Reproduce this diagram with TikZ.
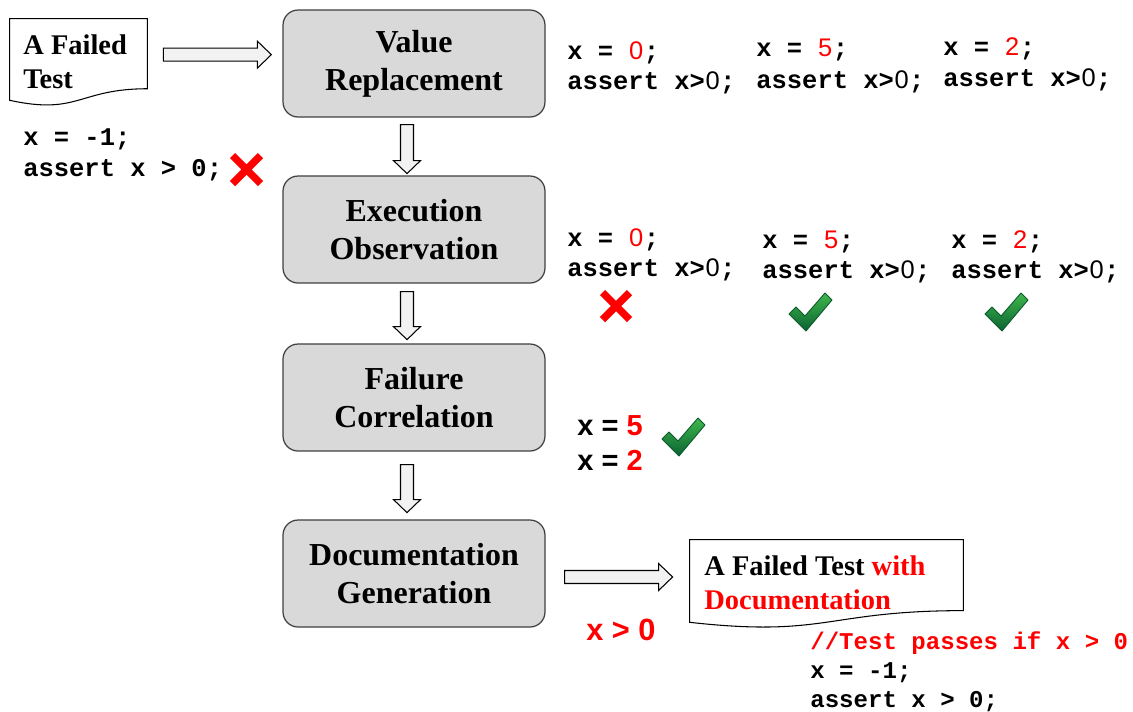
\documentclass[tikz,border=0pt]{standalone}
\usepackage{fontspec}
\setmainfont{Liberation Serif}
\setsansfont{Liberation Sans}
\setmonofont{Liberation Mono}
\usetikzlibrary{calc}

\definecolor{boxfill}{HTML}{D9D9D9}
\definecolor{boxline}{HTML}{404040}
\definecolor{arrowfill}{HTML}{F2F2F2}
\definecolor{hot}{HTML}{FF0000}
\definecolor{okhi}{HTML}{40B84C}
\definecolor{oklo}{HTML}{0A6232}
\definecolor{okline}{HTML}{0A5A2C}

% a light digit in a monospaced cell
\newcommand{\lt}[1]{\makebox[0.6em][c]{\sffamily\mdseries #1}}
\newcommand{\rd}[1]{\textcolor{hot}{\lt{#1}}}

\tikzset{
  stage/.style={draw=boxline, line width=0.7pt, fill=boxfill, rounded corners=0.3cm,
    minimum width=5.24cm, minimum height=2.14cm, align=center, inner sep=0pt,
    font=\fontsize{18.2}{21.6}\selectfont\bfseries},
  blk/.style={draw=black, line width=0.6pt, fill=arrowfill, line join=miter},
  docbox/.style={inner sep=0pt},
  docline/.style={draw=black, line width=0.6pt, fill=white},
  doctext/.style={anchor=base west, inner sep=0pt, font=\fontsize{16.2}{19.5}\selectfont\bfseries},
  code/.style={anchor=base west, inner sep=0pt, font=\fontsize{14.5}{17}\selectfont\ttfamily\bfseries},
  smallcode/.style={anchor=base west, inner sep=0pt, font=\fontsize{13.7}{16}\selectfont\ttfamily\bfseries},
  value/.style={anchor=base west, inner sep=0pt, font=\fontsize{16.5}{20}\selectfont\sffamily\bfseries},
  pics/downblk/.style={code={
    \draw[blk] (-6.5,0) -- (6.5,0) -- (6.5,#1-13) -- (13.5,#1-13) -- (0,#1)
      -- (-13.5,#1-13) -- (-6.5,#1-13) -- cycle;}},
  pics/rightblk/.style={code={
    \draw[blk] (0,-6.5) -- (#1-14,-6.5) -- (#1-14,-13.5) -- (#1,0)
      -- (#1-14,13.5) -- (#1-14,6.5) -- (0,6.5) -- cycle;}},
  pics/okmark/.style={code={
    \draw[okline, line width=0.5pt, top color=okhi, bottom color=oklo, line join=round]
      (0,21) -- (7,14) -- (16,23) -- (36,0) -- (43,7) -- (17,38) -- cycle;}},
  pics/nomark/.style={code={
    \draw[hot, line width=4.2pt] (0,0) -- (#1,#1) (0,#1) -- (#1,0);}},
}

\begin{document}
\begin{tikzpicture}[x=0.02cm, y=-0.02cm]
\useasboundingbox (0,0) rectangle (1133,711);
\fill[white] (0,0) rectangle (1133,711);

% pipeline stages
\node[stage] (vr) at (414,63.5)  {Value\\Replacement};
\node[stage] (eo) at (414,229.5) {Execution\\Observation};
\node[stage] (fc) at (414,397.5) {Failure\\Correlation};
\node[stage] (dg) at (414,573.5) {Documentation\\Generation};

% block arrows between the stages
\pic (a1) at ($(vr.south)+(-7,7)$)  {downblk=49};
\pic (a2) at ($(eo.south)+(-7,8)$)  {downblk=48};
\pic (a3) at ($(fc.south)+(-7,13)$) {downblk=48};

% input document
\node[docbox, minimum width=2.74cm, minimum height=1.734cm] (d1) at (78.5,62.35) {};
\draw[docline] (d1.north west) -- (d1.north east)
  -- ($(d1.north east)!0.802!(d1.south east)$)
  .. controls ($(d1.north)!0.802!(d1.south)$) and ($(d1.north)!1.1075!(d1.south)$)
  .. ($(d1.north west)!0.934!(d1.south west)$) -- cycle;
\node[doctext] (d1a) at (23,54) {A Failed};
\node[doctext] (d1b) at (23,88) {Test};
\pic (a0) at ($(d1.north east)+(16,36)$) {rightblk=108};

% output document
\node[docbox, minimum width=5.46cm, minimum height=1.756cm] (d2) at (826.5,583.9) {};
\draw[docline] (d2.north west) -- (d2.north east)
  -- ($(d2.north east)!0.802!(d2.south east)$)
  .. controls ($(d2.north)!0.802!(d2.south)$) and ($(d2.north)!1.1075!(d2.south)$)
  .. ($(d2.north west)!0.934!(d2.south west)$) -- cycle;
\node[doctext] (d2a) at (704,575) {A Failed Test \textcolor{hot}{with}};
\node[doctext, text=hot] (d2b) at (704,609) {Documentation};
\pic (a4) at ($(dg.east)+(19,3.5)$) {rightblk=108};

% failing test
\node[code] (t1) at (23,145) {x = -1;};
\node[code] (t2) at (23,176) {assert x > 0;};
\pic at (232.6,155.6) {nomark=28};

% replaced values
\node[code] (r1a) at (567,59) {x = \rd{0};};
\node[code] (r1b) at (567,89) {assert x>\lt{0};};
\node[code] (r2a) at (756,56) {x = \rd{5};};
\node[code] (r2b) at (756,88) {assert x>\lt{0};};
\node[code] (r3a) at (943,55) {x = \rd{2};};
\node[code] (r3b) at (943,86) {assert x>\lt{0};};

% observed executions
\node[code] (o1a) at (567,246) {x = \rd{0};};
\node[code] (o1b) at (567,276) {assert x>\lt{0};};
\node[code] (o2a) at (762,248) {x = \rd{5};};
\node[code] (o2b) at (762,278) {assert x>\lt{0};};
\node[code] (o3a) at (951,248) {x = \rd{2};};
\node[code] (o3b) at (951,278) {assert x>\lt{0};};
\pic at (602.6,292.6) {nomark=27};
\pic at (789,293) {okmark};
\pic at (985,293) {okmark};

% correlated values
\node[value] (c1) at (577,435) {x = \textcolor{hot}{5}};
\node[value] (c2) at (577,470) {x = \textcolor{hot}{2}};
\pic at (662,418) {okmark};

% derived condition
\node[anchor=base west, inner sep=0pt, text=hot, font=\fontsize{17.5}{20}\selectfont\sffamily\bfseries]
  (cond) at (586,640) {x > 0};

% documented test
\node[smallcode, text=hot] (g1) at (810,649) {//Test passes if x > 0};
\node[smallcode] (g2) at (810,678) {x = -1;};
\node[smallcode] (g3) at (810,707) {assert x > 0;};
\end{tikzpicture}
\end{document}
